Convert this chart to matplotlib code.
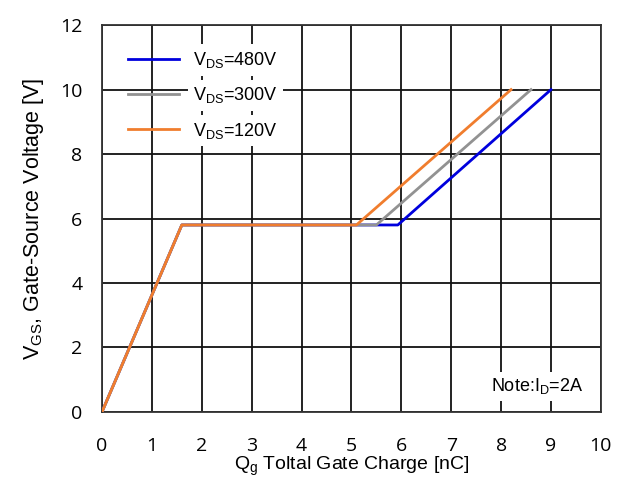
import matplotlib.pyplot as plt

plt.rcParams['font.family'] = ['Liberation Sans', 'DejaVu Sans']
plt.rcParams['mathtext.default'] = 'regular'

# gate charge curves
labels = ['480V', '300V', '120V']
colors = ['#0000dd', '#929292', '#f07d2e']
qg_480 = [0, 1.6, 5.93, 9.0]
qg_300 = [0, 1.6, 5.5, 8.6]
qg_120 = [0, 1.6, 5.1, 8.2]
vgs = [0, 5.8, 5.8, 10]

fig = plt.figure(figsize=(6.22, 4.84), dpi=100)
ax = fig.add_axes([0.164, 0.149, 0.802, 0.799])

for q, lab, c in zip([qg_480, qg_300, qg_120], labels, colors):
    ax.plot(q, vgs, color=c, lw=2, label='V$_{DS}$=' + lab, zorder=3)

ax.set_xlim(0, 10)
ax.set_ylim(0, 12)
ax.set_xticks(range(0, 11))
ax.set_yticks(range(0, 13, 2))
ax.grid(True, color='#111111', lw=1.3)
ax.set_axisbelow(True)
for s in ax.spines.values():
    s.set_color('#333333')
    s.set_linewidth(1.3)
ax.tick_params(length=0, labelsize=14)
ax.tick_params(axis='x', pad=18)
ax.tick_params(axis='y', pad=14)
for t in ax.get_xticklabels() + ax.get_yticklabels():
    t.set_fontfamily(['Open Sans', 'DejaVu Sans'])

ax.set_xlabel('Q$_g$ Toltal Gate Charge [nC]', fontsize=14, labelpad=0)
ax.set_ylabel('V$_{GS}$, Gate-Source Voltage [V]', fontsize=15.5, labelpad=10)

leg = ax.legend(loc='upper left', bbox_to_anchor=(0.02, 0.978), frameon=False,
                fontsize=13, handlelength=2.8, handletextpad=0.8,
                labelspacing=0.85)
for t in leg.get_texts():
    t.set_bbox(dict(facecolor='white', edgecolor='none', pad=4))

ax.text(0.965, 0.04, 'Note:I$_D$=2A', transform=ax.transAxes, ha='right',
        va='bottom', fontsize=13,
        bbox=dict(facecolor='white', edgecolor='none', pad=3))

fig.savefig('out.png', dpi=100)
